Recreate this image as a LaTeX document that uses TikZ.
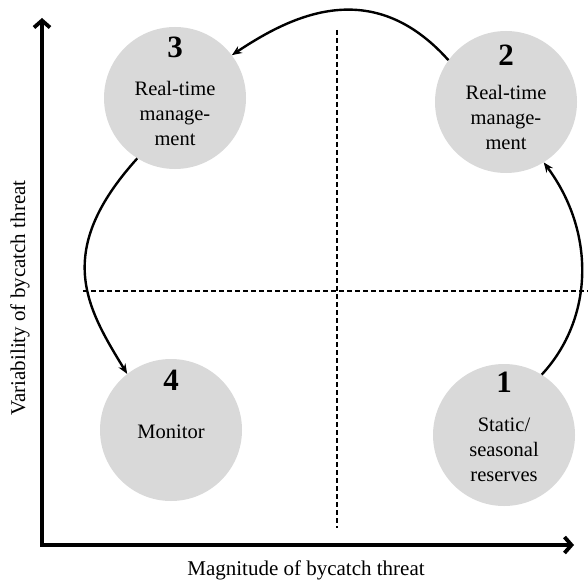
\documentclass[tikz,border=0pt]{standalone}
\usepackage{fontspec}
\setmainfont{Liberation Serif}
\usetikzlibrary{arrows.meta,calc}
\definecolor{circgray}{RGB}{217,217,217}
\begin{document}
\begin{tikzpicture}[x=1pt,y=-1pt,
  stage/.style={circle,fill=circgray,minimum size=142pt,inner sep=0pt},
  num/.style={font=\fontsize{31}{31}\selectfont\bfseries,inner sep=0pt},
  body/.style={font=\fontsize{20.5}{25}\selectfont,align=center,inner sep=0pt},
  flow/.style={line width=2.4pt,-{Stealth[length=10pt,width=8pt]}},
  axis/.style={line width=3.8pt,{Straight Barb[length=7pt,width=16pt]}-{Straight Barb[length=7pt,width=16pt]}},
  quad/.style={line width=1.5pt,dash pattern=on 5pt off 3pt},
  axlabel/.style={font=\fontsize{21}{25}\selectfont,inner sep=0pt}]
\useasboundingbox (0,0) rectangle (588,588);

% quadrant dividers
\coordinate (vtop) at (337,30);
\coordinate (vbot) at (337,528);
\coordinate (hl) at (83,291);
\coordinate (hr) at (588,291);
\draw[quad] (vtop) -- (vbot);
\draw[quad] (hl) -- (hr);

% axes
\coordinate (ytop) at (42,18);
\coordinate (orig) at (42,545);
\coordinate (xend) at (574,545);
\draw[axis] (ytop) -- (orig) -- (xend);
\node[axlabel] (xlab) at (306,570) {Magnitude of bycatch threat};
\node[axlabel,rotate=90] (ylab) at (20,298) {Variability of bycatch threat};

% stages
\node[stage] (s1) at (504,435) {};
\node[stage] (s2) at (506,102) {};
\node[stage] (s3) at (175,98) {};
\node[stage] (s4) at (171,430) {};

\node[num] (n1) at ($(s1)+(0,-53)$) {1};
\node[num] (n2) at ($(s2)+(0,-47)$) {2};
\node[num] (n3) at ($(s3)+(0,-51)$) {3};
\node[num] (n4) at ($(s4)+(0,-50)$) {4};

\node[body] (t1) at ($(s1)+(0,15)$) {Static/\\seasonal\\reserves};
\node[body] (t2) at ($(s2)+(0,15)$) {Real-time\\manage-\\ment};
\node[body] (t3) at ($(s3)+(0,15)$) {Real-time\\manage-\\ment};
\node[body] (t4) at ($(s4)+(0,2)$) {Monitor};

% cycle arrows
\draw[flow] (s1.58) .. controls +(52,-56) and +(52,70) .. (s2.-58);
\draw[flow] (s2.144) .. controls +(-76,-85) and +(60,-40) .. (s3.37);
\draw[flow] (s3.238) .. controls +(-84,93) and +(-41,-67) .. (s4.128);
\end{tikzpicture}
\end{document}
